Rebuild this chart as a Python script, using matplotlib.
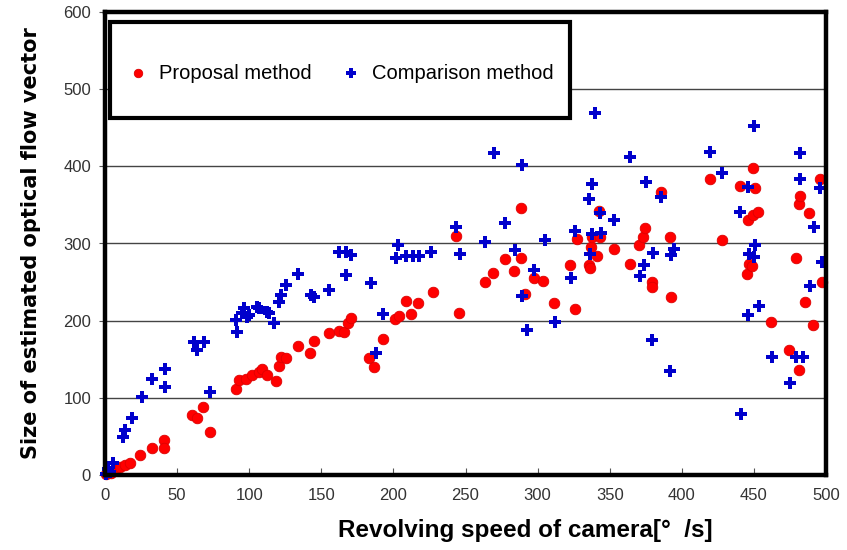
import matplotlib
matplotlib.use("Agg")
import matplotlib.pyplot as plt
from matplotlib.patches import Rectangle

# Proposal method (red circles)
prop_x = [1, 2.3, 4, 7, 10.4, 13.9, 17.4, 24.4, 32.5, 41, 41, 60.4, 63.8, 67.8, 72.6,
          90.5, 92.9, 97.5, 102, 106.8, 109, 112.6, 118.4, 120.7, 121.9, 125.8, 133.5,
          142.3, 144.6, 155.5, 162.5, 166, 168.3, 170.6, 183.4, 186.8, 192.6, 200.8,
          203.8, 212.4, 208.4, 217, 227.5, 245.6, 243.3, 263.5, 269.2, 277.4, 283.9,
          288.3, 288.3, 291.3, 297.8, 304, 311.7, 322.2, 325.6, 327.3, 335.8, 336.5,
          337.3, 337.7, 341.2, 342.8, 343.5, 352.8, 363.9, 370.6, 373.3, 374.4, 379,
          379, 385.8, 391.8, 392.3, 419.4, 427.6, 440.5, 445.1, 445.7, 446.4, 448.7,
          449.2, 449.6, 451, 452.6, 461.9, 474, 479.3, 481.2, 481.2, 481.7, 485.1,
          488.2, 490.9, 495.6, 497.4]
prop_y = [1, 2.2, 3, 6.5, 10.8, 13, 16, 26, 34.5, 45, 34.5, 77.7, 73.4, 88.5, 55.3,
          112, 123, 125, 129.5, 133.8, 138, 129.5, 122, 141, 153, 151, 167,
          157.6, 173.6, 183.5, 187, 185.6, 196.5, 204, 151, 139.5, 175.8, 202,
          206, 208.5, 225.8, 223, 237.5, 210.2, 309.6, 249.6, 261.3, 279.4, 264,
          280.7, 345.5, 234, 254.8, 251.7, 222.4, 272, 214.6, 305.3, 272, 268,
          295.7, 308.7, 284, 342.4, 308.7, 292.4, 273.3, 298, 308.7, 319.6, 249.6,
          243.1, 366.2, 308.7, 230.2, 383.4, 304.4, 374.4, 260.4, 330.3, 273.3, 271,
          336.8, 398, 371.4, 340.3, 198.6, 162, 280.7, 136, 350.6, 361.8, 224.5,
          339, 194.3, 383, 250.4]

# Comparison method (blue plus)
comp_x = [1, 3.5, 5.8, 2, 12.8, 13.9, 18.6, 25.5, 32.5, 41.3, 41.3, 61.5, 63.8, 68.5,
          73, 90.5, 91.7, 95, 96.3, 98.7, 99.8, 105.6, 106.8, 112.6, 113.7, 117,
          120.7, 121.9, 125.3, 133.5, 142.8, 145, 155.5, 162.4, 167, 170.6, 167,
          184.5, 188, 192.6, 203, 202, 209, 213.5, 218, 226.3, 243.7, 246, 263.5,
          270, 277.4, 284.3, 289, 289, 292.5, 297.8, 304.8, 312.2, 323.3, 326, 335.8,
          336.6, 337.7, 337.7, 340, 343.5, 344.2, 352.8, 363.9, 370.9, 373.7, 374.9,
          379, 380.2, 385.8, 391.5, 392.3, 394.6, 419.6, 427.7, 440.5, 441, 445.7,
          445.7, 446.8, 449.9, 450.3, 451, 453.3, 462.4, 474.7, 479.3, 481.7, 481.7,
          484, 488.6, 491.6, 495.6, 497.4]
comp_y = [1, 4.3, 15, 8, 49.6, 58, 73.4, 101, 124, 138, 113.5, 172.7, 162, 172.7,
          108, 200.8, 185.6, 209.5, 216, 205, 207, 218, 216, 211.5, 209.5, 196.5,
          224.5, 233, 246, 261, 233, 231, 239.6, 289, 289, 285, 259,
          248.3, 158.4, 208.5, 298, 281, 283.7, 283.7, 283.7, 289, 321.6, 287, 302,
          416.7, 326, 291.5, 401.6, 232.3, 187.8, 265.5, 304.4, 197.8, 254.8, 316.4, 357.5,
          286, 376.5, 312, 469, 339, 313.9, 330, 412.3, 258, 272, 380,
          175, 288, 359.7, 135, 285, 292.4, 418, 391.6, 341, 79, 373.4,
          207, 287, 452, 282.8, 298, 219, 152.5, 119.6, 152.5, 416.7, 383,
          152.5, 244.8, 321.6, 371.4, 276.3]

x_ticks = [0, 50, 100, 150, 200, 250, 300, 350, 400, 450, 500]
y_ticks = [0, 100, 200, 300, 400, 500, 600]

W, H = 847, 550
fig = plt.figure(figsize=(W / 100, H / 100), dpi=100)
ax = fig.add_axes([105 / W, (H - 475) / H, (826 - 105) / W, (475 - 12) / H])

ax.scatter(prop_x, prop_y, s=58, c="#ff0000", edgecolors="#dd0000", linewidths=0.6,
           marker="o", zorder=3, label="Proposal method", clip_on=False)
ax.scatter(comp_x, comp_y, s=68, c="#0000cc", marker="P", linewidths=0,
           zorder=4, label="Comparison method", clip_on=False)

ax.set_xlim(0, 500)
ax.set_ylim(0, 600)
ax.set_xticks(x_ticks)
ax.set_yticks(y_ticks)
ax.tick_params(axis="x", direction="in", length=5, width=0.8, color="#555555",
               labelsize=12, labelcolor="#333333", pad=9)
ax.tick_params(axis="y", direction="out", length=4, width=0.8, color="#555555",
               labelsize=12, labelcolor="#333333", pad=6)
for lab in ax.get_xticklabels() + ax.get_yticklabels():
    lab.set_fontfamily("Liberation Sans")
ax.yaxis.grid(True, color="#444444", linewidth=1.0, zorder=0)
ax.set_axisbelow(True)
for sp in ax.spines.values():
    sp.set_linewidth(3.2)
    sp.set_color("black")
    sp.set_zorder(6)

# legend box
box = Rectangle((0.007, 0.771), 0.638, 0.207, transform=ax.transAxes,
                facecolor="white", edgecolor="black", linewidth=3.0, zorder=5)
ax.add_patch(box)
leg = ax.legend(loc="center", bbox_to_anchor=(0.32, 0.868), ncol=2, frameon=False,
                handletextpad=0.0, columnspacing=1.0, markerscale=0.8,
                prop={"family": "Liberation Sans", "size": 14.5})
leg.set_zorder(7)

ax.set_ylabel("Size of estimated optical flow vector", fontsize=15,
              fontweight="bold", labelpad=16)
fig.text(525 / W, 1 - 531 / H, "Revolving speed of camera[°  /s]", fontsize=17.5,
         fontweight="bold", ha="center", va="center", family="Liberation Sans")

fig.savefig("out.png", dpi=100)
